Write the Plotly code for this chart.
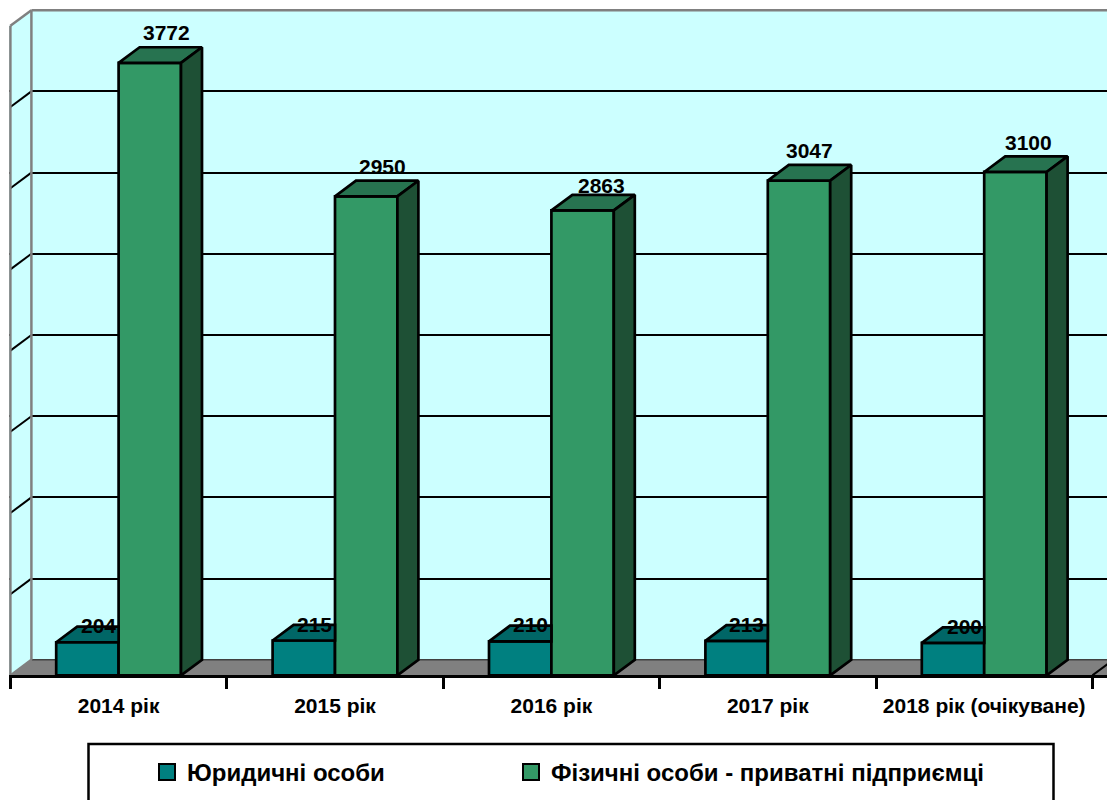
import plotly.graph_objects as go

# Data
categories = ["2014 рік", "2015 рік", "2016 рік", "2017 рік", "2018 рік (очікуване)"]
legal_name = "Юридичні особи"
private_name = "Фізичні особи - приватні підприємці"
legal = [204, 215, 210, 213, 200]
private = [3772, 2950, 2863, 3047, 3100]

# Geometry / style
W, H = 1107, 800
ML, MB = 9, 125
PX_X = 216.4
PX_Y = 0.1624
DX = 21 / PX_X
DY = 15.6 / PX_Y
BAR = 62.4 / PX_X
GRID = 500
WALL_TOP = 4000
XMIN = -0.5 - 1.4 / PX_X
XMAX = XMIN + (W - ML) / PX_X
YMIN = 0.4 / PX_Y
YMAX = YMIN + (H - MB) / PX_Y
FONT = "Liberation Sans"
CYAN, GRAY, DARK = "#CCFFFF", "#808080", "#404040"
TEAL, TEAL_TOP = "#008080", "#006666"
GREEN, GREEN_TOP, GREEN_SIDE = "#339966", "#277350", "#1E5035"
EDGE = 2.7

# hand-read label placement, in pixels relative to the bar's centre and top
legal_nudge = [(11.5, 16.4), (10.6, 16), (10, 16.4), (10, 16), (11, 16)]
private_nudge = [(16.5, 30), (16, 30), (18.7, 24.5), (10.3, 30), (13, 29)]

xs = list(range(len(categories)))
fig = go.Figure()


def path(points):
    return "M" + " L".join(f"{x},{y}" for x, y in points) + " Z"


def poly_trace(points_list, fill):
    px, py = [], []
    for pts in points_list:
        closed = pts + [pts[0]]
        px += [p[0] for p in closed] + [None]
        py += [p[1] for p in closed] + [None]
    return go.Scatter(x=px, y=py, mode="lines", fill="toself", fillcolor=fill,
                      line=dict(color="black", width=EDGE, simplify=False),
                      showlegend=False, hoverinfo="skip")


fig.add_trace(go.Bar(x=xs, y=legal, name=legal_name, marker=dict(color=TEAL, line=dict(color="black", width=EDGE)),
                     showlegend=False))
fig.add_trace(go.Bar(x=xs, y=private, name=private_name, marker=dict(color=GREEN, line=dict(color="black", width=EDGE)),
                     showlegend=False))

legal_tops, private_tops, private_sides = [], [], []
for i in xs:
    v = legal[i]
    l, r = i - BAR, i
    legal_tops.append([(l, v), (l + DX, v + DY), (r, v + DY), (r, v)])
    v = private[i]
    l, r = i, i + BAR
    private_tops.append([(l, v), (l + DX, v + DY), (r + DX, v + DY), (r, v)])
    private_sides.append([(r, v), (r + DX, v + DY), (r + DX, DY), (r, 0)])

fig.add_trace(poly_trace(legal_tops, TEAL_TOP))
fig.add_trace(poly_trace(private_tops, GREEN_TOP))
fig.add_trace(poly_trace(private_sides, GREEN_SIDE))

# legend swatches
for name, col, lw in ((legal_name, TEAL, 319), (private_name, GREEN, 445)):
    fig.add_trace(go.Scatter(x=[None], y=[None], mode="markers", name=name, legendwidth=lw,
                             marker=dict(symbol="square", size=16, color=col, line=dict(color="black", width=2))))

annotations = []
for i in xs:
    for v, cx, (nx, ny) in ((legal[i], i - BAR / 2, legal_nudge[i]), (private[i], i + BAR / 2, private_nudge[i])):
        annotations.append(dict(x=cx, y=v, text=f"<b>{v}</b>", showarrow=False, xshift=nx, yshift=ny,
                                xanchor="center", yanchor="middle",
                                font=dict(family=FONT, size=21, color="black")))

back_x = -0.5 + DX
shapes = []
# white strip above the back wall
shapes.append(dict(type="path", layer="between", xref="x", yref="y", line=dict(width=0), fillcolor="white",
                   path=path([(XMIN, YMAX), (XMAX, YMAX), (XMAX, WALL_TOP + DY), (back_x, WALL_TOP + DY),
                              (-0.5, WALL_TOP), (XMIN, WALL_TOP)])))
# left wall
shapes.append(dict(type="path", layer="between", xref="x", yref="y", line=dict(width=0), fillcolor=CYAN,
                   path=path([(-0.5, 0), (-0.5, WALL_TOP), (back_x, WALL_TOP + DY), (back_x, DY)])))
# left-wall grid diagonals
for k in range(GRID, WALL_TOP, GRID):
    shapes.append(dict(type="line", layer="between", xref="x", yref="y", x0=-0.5, y0=k, x1=back_x, y1=k + DY,
                       line=dict(color="black", width=2)))
# floor
shapes.append(dict(type="path", layer="between", xref="x", yref="y", line=dict(width=0), fillcolor=GRAY,
                   path=path([(-0.5, 0), (back_x, DY), (XMAX, DY), (XMAX, 0)])))
shapes.append(dict(type="line", layer="between", xref="x", yref="y", x0=back_x, y0=DY, x1=XMAX, y1=DY,
                   line=dict(color=DARK, width=1.5)))
shapes.append(dict(type="line", layer="between", xref="x", yref="y", x0=xs[-1] + 0.5, y0=0,
                   x1=xs[-1] + 0.5 + DX, y1=DY, line=dict(color="black", width=2)))
# wall frame
for (x0, y0, x1, y1) in ((-0.5, 0, -0.5, WALL_TOP), (-0.5, WALL_TOP, back_x, WALL_TOP + DY),
                         (back_x, DY, back_x, WALL_TOP + DY), (back_x, WALL_TOP + DY, XMAX, WALL_TOP + DY),
                         (-0.5, 0, back_x, DY)):
    shapes.append(dict(type="line", layer="between", xref="x", yref="y", x0=x0, y0=y0, x1=x1, y1=y1,
                       line=dict(color=GRAY, width=2.5)))
# legend frame
plot_w, plot_h = W - ML, H - MB
shapes.append(dict(type="rect", layer="above", xref="paper", yref="paper",
                   x0=(88.5 - ML) / plot_w, x1=(1053.5 - ML) / plot_w,
                   y0=(plot_h - 810) / plot_h, y1=(plot_h - 744) / plot_h,
                   line=dict(color="black", width=2.5), fillcolor="rgba(0,0,0,0)"))

fig.update_layout(
    width=W, height=H, autosize=False,
    margin=dict(l=ML, r=0, t=0, b=MB, pad=0, autoexpand=False),
    paper_bgcolor="white", plot_bgcolor=CYAN,
    barmode="group", bargap=1 - 2 * BAR, bargroupgap=0,
    font=dict(family=FONT, color="black"),
    showlegend=True,
    legend=dict(orientation="h", x=(147 - ML) / plot_w, xanchor="left", y=(plot_h - 750) / plot_h, yanchor="top",
                bgcolor="rgba(0,0,0,0)", borderwidth=0,
                font=dict(family=FONT, size=24, color="black", weight="bold"), itemsizing="trace",
                tracegroupgap=0),
    xaxis=dict(range=[XMIN, XMAX], tickmode="array", tickvals=xs, ticktext=[f"<b>{c}</b>" for c in categories],
               tickfont=dict(family=FONT, size=21, color="black"), ticks="", ticklabelstandoff=10,
               showgrid=False, zeroline=False, showline=True, linecolor="black", linewidth=2.5,
               minor=dict(tickmode="array", tickvals=[i - 0.5 for i in range(len(categories) + 1)],
                          ticks="outside", ticklen=11, tickwidth=2.5, tickcolor="black", showgrid=False)),
    yaxis=dict(range=[YMIN, YMAX], tickmode="array", tickvals=[k + DY for k in range(GRID, WALL_TOP, GRID)],
               showticklabels=False, ticks="", showgrid=True, gridcolor="black", gridwidth=2,
               zeroline=False, showline=False),
    shapes=shapes, annotations=annotations,
)

fig.write_html("out.html", post_script="document.body.style.margin='0';",
               config={"displayModeBar": False})
